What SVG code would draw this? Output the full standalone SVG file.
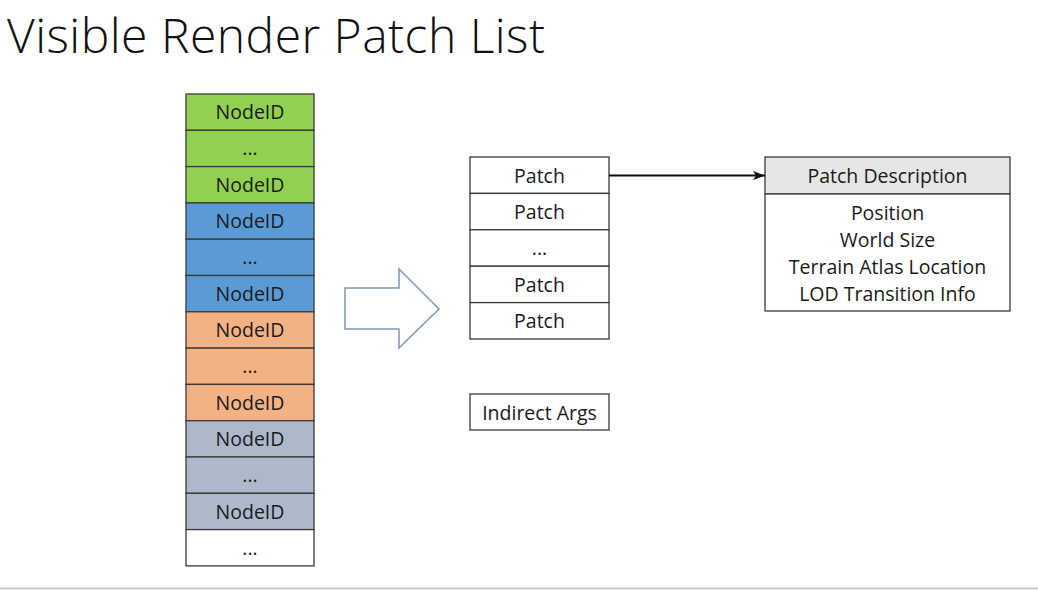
<svg xmlns="http://www.w3.org/2000/svg" width="1038" height="590" viewBox="0 0 1038 590">
<defs>
<style>
.cell{stroke:#3a3a3a;stroke-width:1.3}
.t{font-family:"Open Sans","Noto Sans","Liberation Sans",sans-serif;font-size:19.5px;fill:#1a1a1a;text-anchor:middle}
.g{fill:#92d050}.b{fill:#5b9bd5}.o{fill:#f4b183}.s{fill:#adb9ca}.w{fill:#ffffff}
</style>
<marker id="ah" viewBox="0 0 12 10" refX="12" refY="5" markerWidth="12" markerHeight="10" markerUnits="userSpaceOnUse" orient="auto">
<path d="M0,0.5 L12,5 L0,9.5 L3,5 Z" fill="#111"/>
</marker>
</defs>
<rect width="1038" height="590" fill="#fff"/>
<text x="7" y="53" font-family="'Open Sans','Noto Sans',sans-serif" font-weight="300" font-size="48" fill="#111" textLength="538">Visible Render Patch List</text>
<line x1="0" y1="588.5" x2="1038" y2="588.5" stroke="#c8c8c8" stroke-width="2"/>

<g id="node-list">
<rect class="cell g" x="186" y="94" width="128" height="36.3"/>
<text class="t" x="250" y="119">NodeID</text>
<rect class="cell g" x="186" y="130.3" width="128" height="36.3"/>
<text class="t" x="250" y="155">...</text>
<rect class="cell g" x="186" y="166.6" width="128" height="36.3"/>
<text class="t" x="250" y="192">NodeID</text>
<rect class="cell b" x="186" y="202.9" width="128" height="36.3"/>
<text class="t" x="250" y="228">NodeID</text>
<rect class="cell b" x="186" y="239.2" width="128" height="36.3"/>
<text class="t" x="250" y="264">...</text>
<rect class="cell b" x="186" y="275.5" width="128" height="36.3"/>
<text class="t" x="250" y="301">NodeID</text>
<rect class="cell o" x="186" y="311.8" width="128" height="36.3"/>
<text class="t" x="250" y="337">NodeID</text>
<rect class="cell o" x="186" y="348.1" width="128" height="36.3"/>
<text class="t" x="250" y="373">...</text>
<rect class="cell o" x="186" y="384.4" width="128" height="36.3"/>
<text class="t" x="250" y="410">NodeID</text>
<rect class="cell s" x="186" y="420.7" width="128" height="36.3"/>
<text class="t" x="250" y="446">NodeID</text>
<rect class="cell s" x="186" y="457" width="128" height="36.3"/>
<text class="t" x="250" y="482">...</text>
<rect class="cell s" x="186" y="493.3" width="128" height="36.3"/>
<text class="t" x="250" y="519">NodeID</text>
<rect class="cell w" x="186" y="529.6" width="128" height="36.3"/>
<text class="t" x="250" y="555">...</text>
</g>

<g id="block-arrow">
<path d="M345,288 L399,288 L399,269 L439,309 L399,348 L399,329 L345,329 Z" fill="#fff" stroke="#7f96b2" stroke-width="1.5"/>
</g>

<g id="patch-list">
<rect class="cell w" x="470" y="157" width="139" height="36.4"/>
<text class="t" x="539.5" y="182.5">Patch</text>
<rect class="cell w" x="470" y="193.4" width="139" height="36.4"/>
<text class="t" x="539.5" y="219">Patch</text>
<rect class="cell w" x="470" y="229.8" width="139" height="36.4"/>
<text class="t" x="539.5" y="255">...</text>
<rect class="cell w" x="470" y="266.2" width="139" height="36.4"/>
<text class="t" x="539.5" y="291.5">Patch</text>
<rect class="cell w" x="470" y="302.6" width="139" height="36.4"/>
<text class="t" x="539.5" y="328">Patch</text>
</g>

<g id="indirect-args">
<rect class="cell w" x="470" y="394" width="139" height="36"/>
<text class="t" x="539.5" y="419.5">Indirect Args</text>
</g>

<g id="patch-description">
<rect class="cell" x="765" y="157" width="245" height="37" fill="#e6e6e6"/>
<text class="t" x="887.5" y="183">Patch Description</text>
<rect class="cell w" x="765" y="194" width="245" height="117"/>
<text class="t" x="887.5" y="220">Position</text>
<text class="t" x="887.5" y="247">World Size</text>
<text class="t" x="887.5" y="274">Terrain Atlas Location</text>
<text class="t" x="887.5" y="301">LOD Transition Info</text>
</g>

<g id="connectors">
<line x1="609" y1="175.5" x2="765" y2="175.5" stroke="#111" stroke-width="2" marker-end="url(#ah)"/>
</g>
</svg>
